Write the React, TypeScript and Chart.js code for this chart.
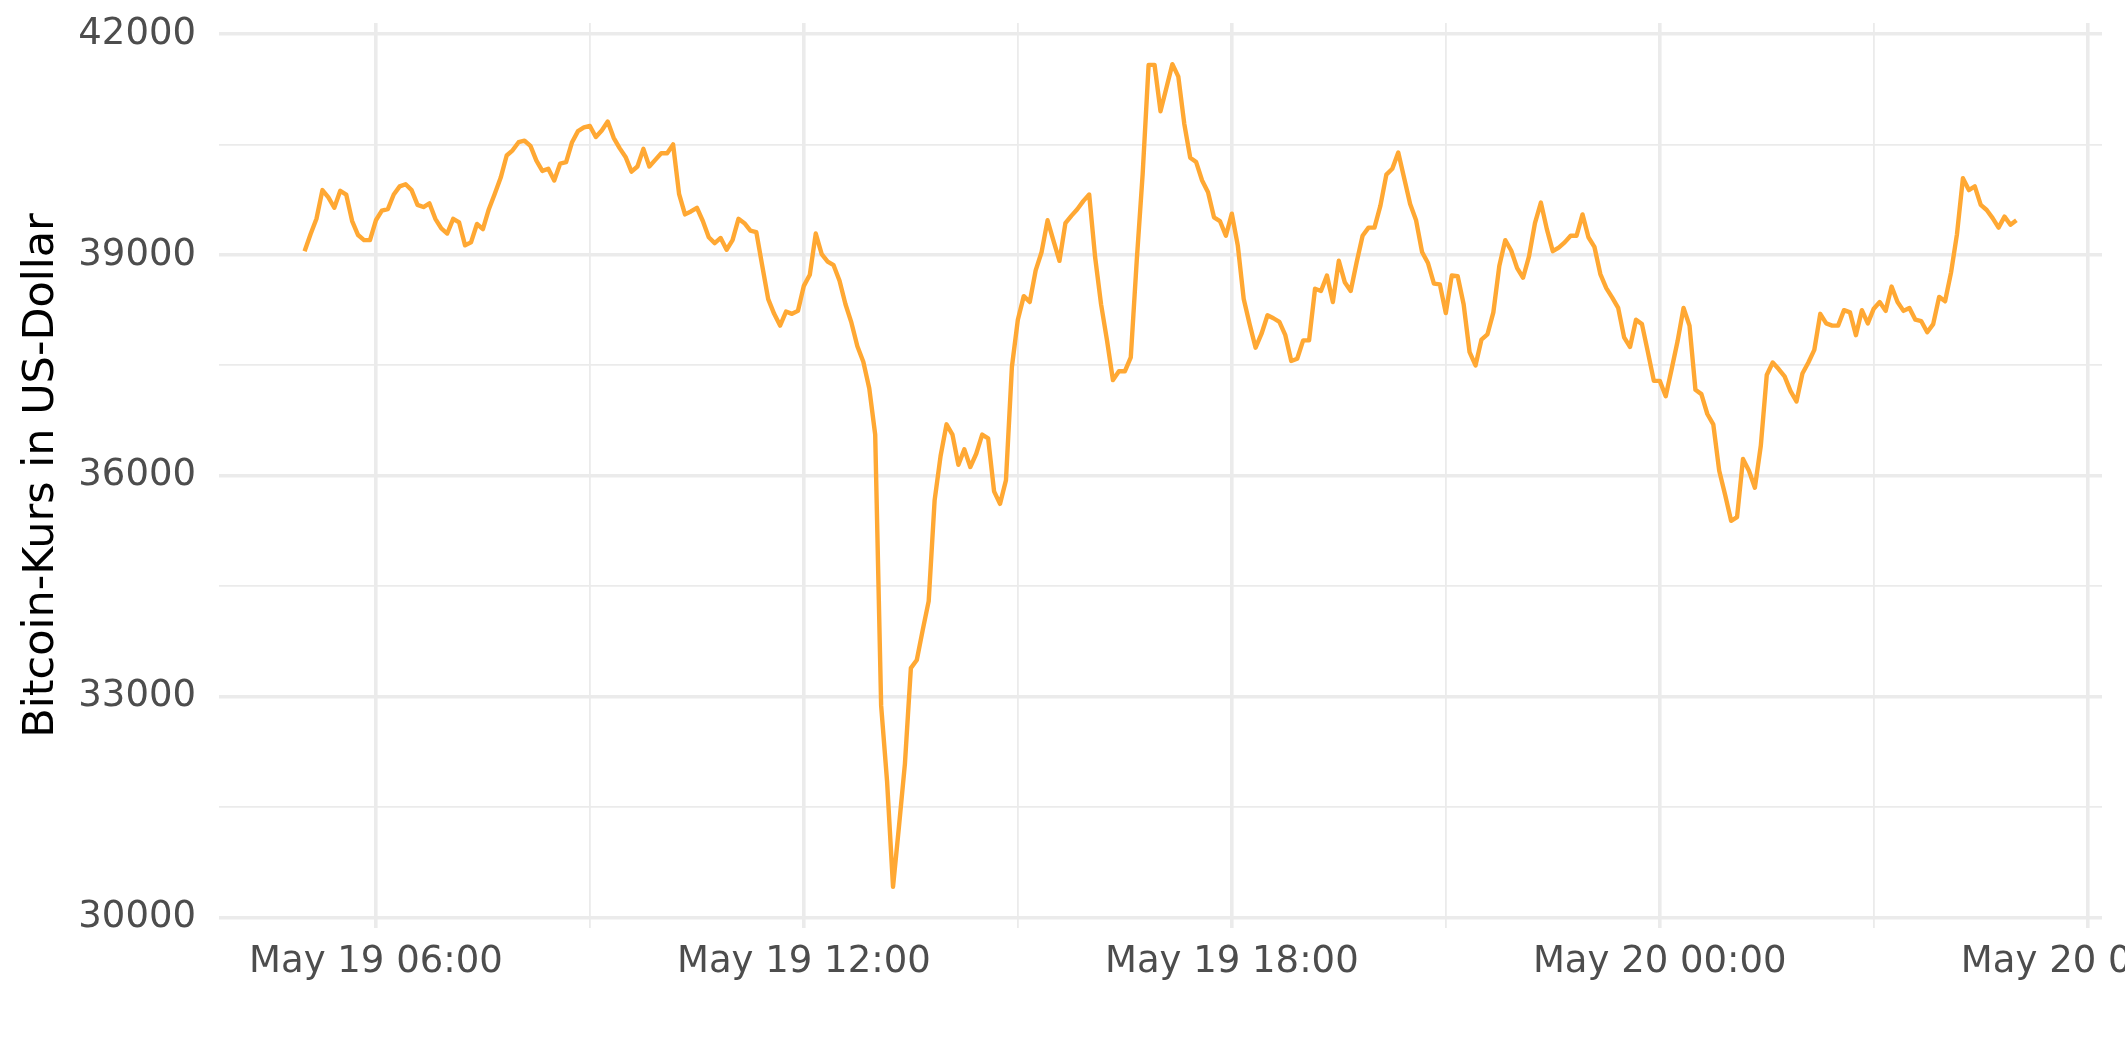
import React, { useEffect, useRef } from 'react';
import { Chart, registerables } from 'chart.js';

Chart.register(...registerables);

// Time axis: hours since May 19 00:00; data every 5 minutes from May 19 05:00
const START_HOUR = 5;
const STEP_MINUTES = 5;

const prices: number[] = [
  39050, 39280, 39490, 39880, 39780, 39640, 39870, 39820, 39460, 39270,
  39200, 39200, 39470, 39600, 39620, 39820, 39930, 39960, 39880, 39680,
  39650, 39700, 39490, 39360, 39290, 39490, 39440, 39130, 39170, 39420,
  39350, 39620, 39830, 40050, 40350, 40420, 40530, 40550, 40480, 40280,
  40140, 40170, 40010, 40240, 40260, 40530, 40680, 40730, 40750, 40600,
  40690, 40810, 40590, 40450, 40330, 40130, 40200, 40440, 40200, 40290,
  40380, 40380, 40500, 39830, 39550, 39590, 39640, 39460, 39240, 39160,
  39230, 39070, 39200, 39490, 39430, 39330, 39310, 38850, 38400, 38200,
  38040, 38230, 38200, 38240, 38580, 38730, 39290, 39010, 38910, 38860,
  38650, 38330, 38080, 37760, 37550, 37190, 36560, 32880, 31850, 30420,
  31240, 32090, 33390, 33500, 33910, 34300, 35670, 36270, 36700, 36560,
  36150, 36360, 36120, 36300, 36560, 36510, 35790, 35620, 35940, 37480,
  38120, 38440, 38360, 38790, 39040, 39470, 39190, 38920, 39430, 39530,
  39620, 39730, 39820, 38970, 38330, 37840, 37300, 37420, 37420, 37610,
  38920, 40100, 41580, 41580, 40950, 41270, 41590, 41420, 40780, 40320,
  40260, 40010, 39850, 39510, 39460, 39260, 39560, 39130, 38400, 38060,
  37740, 37930, 38180, 38140, 38090, 37910, 37560, 37590, 37840, 37840,
  38540, 38510, 38720, 38360, 38920, 38630, 38510, 38900, 39260, 39370,
  39370, 39670, 40090, 40170, 40390, 40040, 39690, 39470, 39040, 38890,
  38610, 38600, 38210, 38720, 38710, 38330, 37680, 37500, 37850, 37920,
  38220, 38850, 39200, 39060, 38820, 38690, 38980, 39430, 39710, 39350,
  39050, 39100, 39170, 39260, 39260, 39550, 39240, 39110, 38740, 38550,
  38420, 38280, 37880, 37750, 38120, 38060, 37680, 37290, 37290, 37080,
  37450, 37830, 38280, 38040, 37170, 37110, 36840, 36700, 36070, 35740,
  35390, 35440, 36230, 36070, 35840, 36410, 37370, 37540, 37450, 37350,
  37150, 37010, 37390, 37540, 37710, 38200, 38070, 38040, 38040, 38250,
  38220, 37910, 38250, 38070, 38270, 38360, 38240, 38570, 38360, 38240,
  38280, 38120, 38100, 37950, 38060, 38430, 38370, 38760, 39280, 40040,
  39880, 39930, 39680, 39610, 39500, 39370, 39520, 39410, 39470,
];

const xMajorHours = [6, 12, 18, 24, 30];
const xMajorLabels = ['May 19 06:00', 'May 19 12:00', 'May 19 18:00', 'May 20 00:00', 'May 20 06:00'];
const xMinorHours = [9, 15, 21, 27];

const yMajor = [30000, 33000, 36000, 39000, 42000];
const yMinor = [31500, 34500, 37500, 40500];

const yTitle = 'Bitcoin-Kurs in US-Dollar';

export default function App() {
  const canvasRef = useRef<HTMLCanvasElement | null>(null);

  useEffect(() => {
    if (!canvasRef.current) return;
    const points = prices.map((p, i) => ({ x: START_HOUR + (i * STEP_MINUTES) / 60, y: p }));
    const xs = points.map((p) => p.x);
    const xMin0 = Math.min(...xs);
    const xMax0 = Math.max(...xs);
    const yMin0 = Math.min(...prices);
    const yMax0 = Math.max(...prices);
    const xPad = (xMax0 - xMin0) * 0.05;
    const yPad = (yMax0 - yMin0) * 0.05;

    const font = 'DejaVu Sans';

    const chart = new Chart(canvasRef.current, {
      type: 'line',
      data: {
        datasets: [
          {
            data: points,
            borderColor: '#FFA833',
            borderWidth: 4.4,
            pointRadius: 0,
            tension: 0,
            borderJoinStyle: 'round',
            fill: false,
          },
        ],
      },
      options: {
        animation: false,
        responsive: true,
        maintainAspectRatio: false,
        layout: { padding: { top: 23, right: 23, bottom: 0, left: 0 } },
        plugins: { legend: { display: false }, tooltip: { enabled: false } },
        scales: {
          x: {
            type: 'linear',
            min: xMin0 - xPad,
            max: xMax0 + xPad,
            afterBuildTicks: (scale: any) => {
              scale.ticks = [...xMajorHours, ...xMinorHours].sort((a, b) => a - b).map((v) => ({ value: v }));
            },
            afterFit: (scale: any) => {
              scale.height = 134;
              scale.paddingLeft = 0;
              scale.paddingRight = 0;
            },
            border: { display: false },
            grid: {
              color: '#EBEBEB',
              drawTicks: false,
              lineWidth: (ctx: any) => (ctx.tick && xMajorHours.includes(ctx.tick.value) ? 3.6 : 1.8),
            },
            ticks: {
              autoSkip: false,
              maxRotation: 0,
              minRotation: 0,
              padding: 12,
              color: '#4D4D4D',
              font: { family: font, size: 37 },
              callback: (value: any) => {
                const idx = xMajorHours.indexOf(Number(value));
                return idx >= 0 ? xMajorLabels[idx] : '';
              },
            },
          },
          y: {
            type: 'linear',
            min: yMin0 - yPad,
            max: yMax0 + yPad,
            afterBuildTicks: (scale: any) => {
              scale.ticks = [...yMajor, ...yMinor].sort((a, b) => a - b).map((v) => ({ value: v }));
            },
            afterFit: (scale: any) => {
              scale.width = 219;
              scale.paddingTop = 0;
              scale.paddingBottom = 0;
            },
            border: { display: false },
            grid: {
              color: '#EBEBEB',
              drawTicks: false,
              lineWidth: (ctx: any) => (ctx.tick && yMajor.includes(ctx.tick.value) ? 3.6 : 1.8),
            },
            ticks: {
              autoSkip: false,
              padding: 23,
              color: '#4D4D4D',
              font: { family: font, size: 37 },
              callback: (value: any) => (yMajor.includes(Number(value)) ? String(value) : ''),
            },
            title: {
              display: true,
              text: yTitle,
              color: '#000000',
              font: { family: font, size: 43 },
              padding: { top: 16, bottom: 0 },
            },
          },
        },
      },
    });
    return () => chart.destroy();
  }, []);

  return (
    <div style={{ position: 'absolute', left: 0, top: 0, width: 2125, height: 1062, background: '#ffffff' }}>
      <canvas ref={canvasRef} />
    </div>
  );
}
